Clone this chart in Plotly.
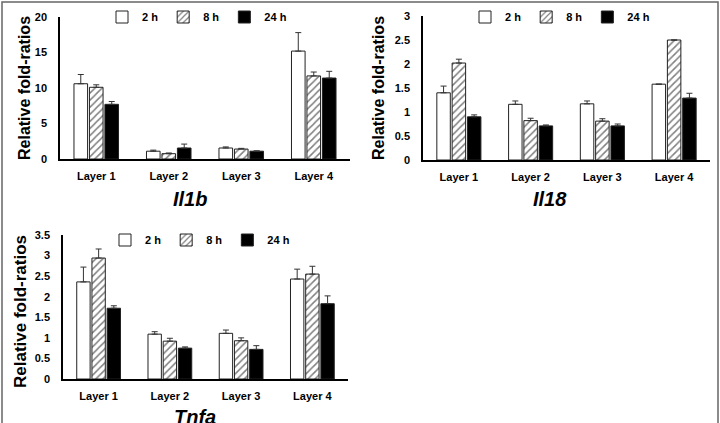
import plotly.graph_objects as go

layers = ["Layer 1", "Layer 2", "Layer 3", "Layer 4"]
times = ["2 h", "8 h", "24 h"]

il1b_2h = [10.6, 1.1, 1.55, 15.2]
il1b_2h_err = [1.3, 0.15, 0.15, 2.6]
il1b_8h = [10.1, 0.75, 1.4, 11.7]
il1b_8h_err = [0.35, 0.1, 0.1, 0.55]
il1b_24h = [7.7, 1.55, 1.1, 11.4]
il1b_24h_err = [0.4, 0.55, 0.05, 0.95]

il18_2h = [1.40, 1.16, 1.17, 1.58]
il18_2h_err = [0.14, 0.07, 0.06, 0.0]
il18_8h = [2.02, 0.82, 0.81, 2.50]
il18_8h_err = [0.08, 0.05, 0.05, 0.0]
il18_24h = [0.90, 0.71, 0.71, 1.29]
il18_24h_err = [0.04, 0.02, 0.04, 0.10]

tnfa_2h = [2.36, 1.09, 1.11, 2.43]
tnfa_2h_err = [0.36, 0.06, 0.08, 0.24]
tnfa_8h = [2.94, 0.92, 0.93, 2.55]
tnfa_8h_err = [0.22, 0.07, 0.07, 0.19]
tnfa_24h = [1.72, 0.75, 0.72, 1.83]
tnfa_24h_err = [0.06, 0.03, 0.09, 0.19]

titles = ["Il1b", "Il18", "Tnfa"]
ytitle = "Relative fold-ratios"

FONT = "Liberation Sans, Arial, sans-serif"
W, H = 720, 423

panels = [
    (titles[0], [(il1b_2h, il1b_2h_err), (il1b_8h, il1b_8h_err), (il1b_24h, il1b_24h_err)], "x", "y", "legend"),
    (titles[1], [(il18_2h, il18_2h_err), (il18_8h, il18_8h_err), (il18_24h, il18_24h_err)], "x2", "y2", "legend2"),
    (titles[2], [(tnfa_2h, tnfa_2h_err), (tnfa_8h, tnfa_8h_err), (tnfa_24h, tnfa_24h_err)], "x3", "y3", "legend3"),
]

styles = [
    dict(color="white", pattern=None),
    dict(color="white", pattern=dict(shape="/", fgcolor="black", bgcolor="white", size=5, solidity=0.3)),
    dict(color="black", pattern=None),
]

fig = go.Figure()
for title, series, xa, ya, lg in panels:
    for name, (vals, errs), st in zip(times, series, styles):
        marker = dict(color=st["color"], line=dict(color="#222", width=1))
        if st["pattern"]:
            marker["pattern"] = st["pattern"]
        fig.add_trace(go.Bar(
            x=layers, y=vals, name=name, xaxis=xa, yaxis=ya, legend=lg,
            marker=marker,
            error_y=dict(type="data", array=errs, arrayminus=[0] * len(errs),
                         symmetric=False, color="#333", thickness=1, width=3),
        ))

def px_x(p):
    return p / W

def px_y(p):
    return 1 - p / H

axis_font = dict(family=FONT, size=11, color="black", weight="bold")

def xaxis(d0, d1, anchor):
    return dict(domain=[px_x(d0), px_x(d1)], anchor=anchor, type="category",
                range=[-0.5, 3.5], showline=True, linecolor="black", linewidth=2,
                ticks="", tickfont=axis_font, showgrid=False, zeroline=False,
                ticklabelstandoff=6, automargin=False)

def yaxis(d0, d1, anchor, rng, dtick):
    return dict(domain=[px_y(d0), px_y(d1)], anchor=anchor, range=rng, dtick=dtick,
                showline=True, linecolor="black", linewidth=1.5, ticks="",
                tickfont=axis_font, showgrid=False, zeroline=False,
                ticklabelstandoff=9, automargin=False)

leg = lambda x, y: dict(x=x, y=y, xanchor="left", yanchor="middle", orientation="h",
                        font=dict(family=FONT, size=11, color="black", weight="bold"),
                        bgcolor="rgba(0,0,0,0)", itemwidth=30, traceorder="normal",
                        entrywidth=0)

fig.update_layout(
    width=W, height=H,
    margin=dict(l=0, r=0, t=0, b=0),
    paper_bgcolor="white", plot_bgcolor="white",
    barmode="group", bargap=0.36, bargroupgap=0.12,
    xaxis=xaxis(60, 350, "y"),
    yaxis=yaxis(159, 17, "x", [0, 20], 5),
    xaxis2=xaxis(423, 710, "y2"),
    yaxis2=yaxis(160, 16, "x2", [0, 3], 0.5),
    xaxis3=xaxis(63, 348, "y3"),
    yaxis3=yaxis(379, 235, "x3", [0, 3.5], 0.5),
    legend=leg(px_x(102), px_y(17)),
    legend2=leg(px_x(465), px_y(17)),
    legend3=leg(px_x(105), px_y(240)),
    showlegend=True,
)

ann = []
for txt, x, y in [(titles[0], 190, 199), (titles[1], 550, 199), (titles[2], 195, 417)]:
    ann.append(dict(text=txt, x=px_x(x), y=px_y(y), xref="paper", yref="paper",
                    xanchor="center", yanchor="middle", showarrow=False,
                    font=dict(family=FONT, size=20, color="black", weight="bold", style="italic")))
for x, y, s in [(25, 88, 16), (379, 88, 16), (20, 312, 17)]:
    ann.append(dict(text=ytitle, x=px_x(x), y=px_y(y), xref="paper", yref="paper",
                    xanchor="center", yanchor="middle", showarrow=False, textangle=-90,
                    font=dict(family=FONT, size=s, color="black", weight="bold")))
fig.update_layout(annotations=ann)

fig.add_shape(type="rect", xref="paper", yref="paper", x0=px_x(2), x1=px_x(718),
              y0=-0.1, y1=px_y(2), line=dict(color="#666", width=1.5), layer="below")

fig.write_html("out.html")
